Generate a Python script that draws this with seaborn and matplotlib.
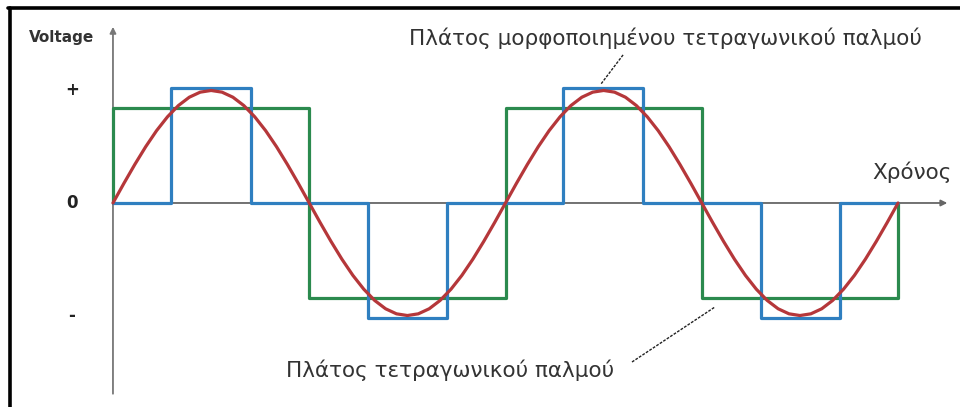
import numpy as np
import pandas as pd
import seaborn as sns
import matplotlib.pyplot as plt
from matplotlib.lines import Line2D

# time in electrical degrees (two periods shown), read every 10 degrees
sine_t = [0, 10, 20, 30, 40, 50, 60, 70, 80, 90, 100, 110, 120, 130, 140, 150, 160, 170, 180,
          190, 200, 210, 220, 230, 240, 250, 260, 270, 280, 290, 300, 310, 320, 330, 340, 350, 360,
          370, 380, 390, 400, 410, 420, 430, 440, 450, 460, 470, 480, 490, 500, 510, 520, 530, 540,
          550, 560, 570, 580, 590, 600, 610, 620, 630, 640, 650, 660, 670, 680, 690, 700, 710, 720]
sine_v = [0.000, 0.174, 0.342, 0.500, 0.643, 0.766, 0.866, 0.940, 0.985, 1.000,
          0.985, 0.940, 0.866, 0.766, 0.643, 0.500, 0.342, 0.174, 0.000,
          -0.174, -0.342, -0.500, -0.643, -0.766, -0.866, -0.940, -0.985, -1.000,
          -0.985, -0.940, -0.866, -0.766, -0.643, -0.500, -0.342, -0.174, 0.000,
          0.174, 0.342, 0.500, 0.643, 0.766, 0.866, 0.940, 0.985, 1.000,
          0.985, 0.940, 0.866, 0.766, 0.643, 0.500, 0.342, 0.174, 0.000,
          -0.174, -0.342, -0.500, -0.643, -0.766, -0.866, -0.940, -0.985, -1.000,
          -0.985, -0.940, -0.866, -0.766, -0.643, -0.500, -0.342, -0.174, 0.000]

# square wave (green)
square_t = [0, 0, 180, 360, 540, 720, 720]
square_v = [0, 0.84, -0.84, 0.84, -0.84, -0.84, 0]

# modified square wave (blue)
mod_t = [0, 53, 127, 234, 306, 413, 486, 594, 667, 720]
mod_v = [0, 1.02, 0, -1.02, 0, 1.02, 0, -1.02, 0, 0]

level_labels = ['+', '0', '-']
level_values = [1.0, 0.0, -1.0]

label_mod = 'Πλάτος μορφοποιημένου τετραγωνικού παλμού'
label_square = 'Πλάτος τετραγωνικού παλμού'
label_time = 'Χρόνος'
label_volt = 'Voltage'

sns.set_theme(style='white')
plt.rcParams['font.family'] = ['DejaVu Sans']

fig = plt.figure(figsize=(9.6, 4.07), dpi=100)
ax = fig.add_axes([0, 0, 1, 1])
ax.set_xlim(-103.6, 776.8)
ax.set_ylim(-1.813, 1.804)
ax.axis('off')

# axes with arrows
ax.annotate('', xy=(0, 1.59), xytext=(0, -1.72),
            arrowprops=dict(arrowstyle='-|>', color='#777777', lw=1.3, mutation_scale=9), zorder=1)
ax.annotate('', xy=(767.7, 0), xytext=(0, 0),
            arrowprops=dict(arrowstyle='-|>', color='#666666', lw=1.3, mutation_scale=9), zorder=1)

sq = pd.DataFrame({'t': square_t, 'v': square_v})
md = pd.DataFrame({'t': mod_t, 'v': mod_v})
sn = pd.DataFrame({'t': sine_t, 'v': sine_v})

sns.lineplot(data=sq, x='t', y='v', ax=ax, estimator=None, sort=False,
             drawstyle='steps-post', color='#2b8a4e', lw=2.3, zorder=3)
sns.lineplot(data=md, x='t', y='v', ax=ax, estimator=None, sort=False,
             drawstyle='steps-post', color='#2f7fc0', lw=2.3, zorder=4)
sns.lineplot(data=sn, x='t', y='v', ax=ax, estimator=None, sort=False,
             color='#b5373a', lw=2.3, zorder=5, solid_joinstyle='round')

# level labels
for lab, val in zip(level_labels, level_values):
    ax.text(-37.6, val, lab, ha='center', va='center', fontsize=12,
            fontweight='bold', color='#222222')
ax.text(-46.8, 1.467, label_volt, ha='center', va='center', fontsize=11,
        fontweight='bold', color='#333333')

ax.text(506.3, 1.467, label_mod, ha='center', va='center', fontsize=15.5, color='#333333')
ax.text(733, 0.276, label_time, ha='center', va='center', fontsize=15.5, color='#333333')
ax.text(309, -1.484, label_square, ha='center', va='center', fontsize=15.5, color='#333333')

# leader lines
ax.plot([467.8, 447.6], [1.316, 1.058], color='#222222', lw=1.0, ls=(0, (2, 1)))
ax.plot([476, 552.1], [-1.413, -0.924], color='#222222', lw=1.0, ls=(0, (2, 1)))

# frame (left and top edges only)
fig.add_artist(Line2D([10 / 960, 10 / 960], [0, 1 - 8 / 407], color='black', lw=2.6,
                      transform=fig.transFigure))
fig.add_artist(Line2D([8 / 960, 1], [1 - 8 / 407, 1 - 8 / 407], color='black', lw=2.6,
                      transform=fig.transFigure))

fig.savefig('out.png', dpi=100, facecolor='white')
